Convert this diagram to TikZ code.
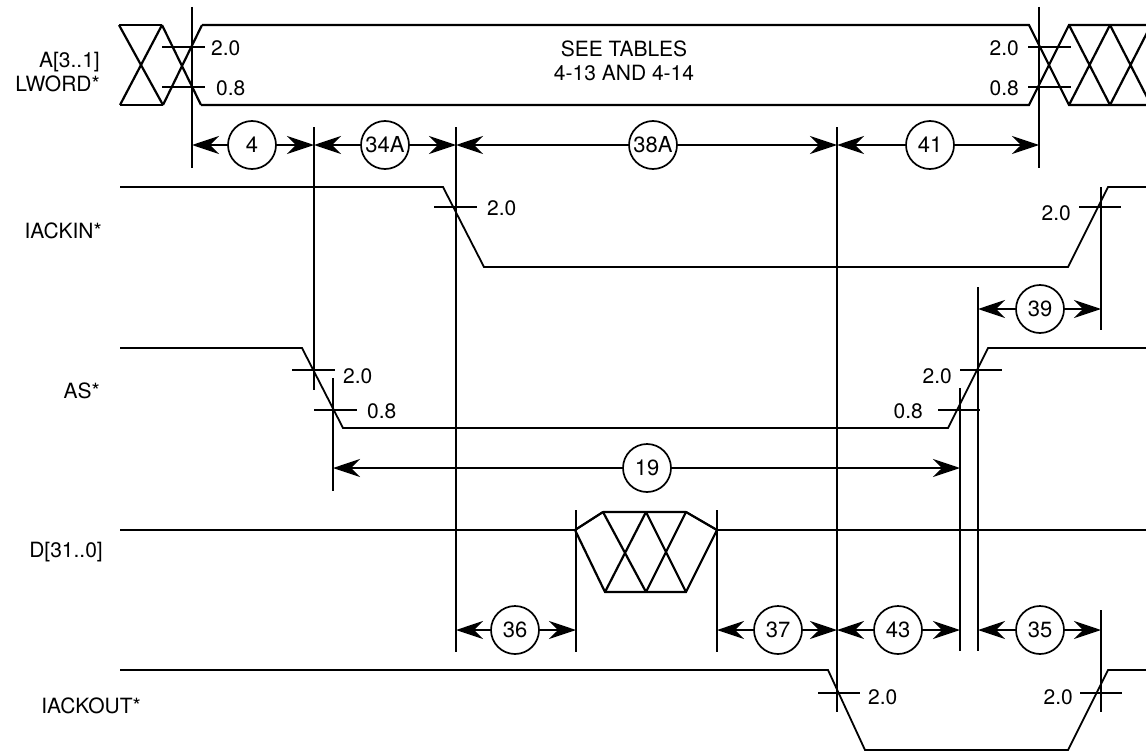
\documentclass[tikz,border=0pt]{standalone}
\usepackage{fontspec}
\setmainfont{TeX Gyre Heros}
\usetikzlibrary{arrows.meta}
\begin{document}
\begin{tikzpicture}[x=1pt,y=-1pt,
  sig/.style={line width=1.8pt, line join=miter},
  bus/.style={line width=2.2pt, line join=miter},
  guide/.style={line width=1.8pt},
  tick/.style={line width=2.2pt},
  dim/.style={line width=2pt, -{Stealth[length=27pt,width=18pt,inset=9pt]}},
  num/.style={circle, draw, line width=1.7pt, fill=white, minimum size=48pt, inner sep=0pt, font=\fontsize{22}{24}\selectfont},
  lbl/.style={font=\fontsize{21}{24}\selectfont, inner sep=0pt},
]
\useasboundingbox (0,0) rectangle (1146,752);

% ---------- signal names ----------
\node[lbl, anchor=east, align=right] (nA) at (100,72) {A[3..1]\\LWORD*};
\node[lbl, anchor=east] (nIN) at (102,231) {IACKIN*};
\node[lbl, anchor=east] (nAS) at (100,391) {AS*};
\node[lbl, anchor=east] (nD) at (103,552) {D[31..0]};
\node[lbl, anchor=east] (nOUT) at (141,706) {IACKOUT*};

% ---------- A[3..1] / LWORD* bus ----------
\draw[bus] (119,25) -- (162,25) (120,105) -- (163,105);
\draw[bus] (119,25) -- (163,105) (120,105) -- (162,25);
\draw[bus] (162,25) -- (201,105) (163,105) -- (202,25);
\draw[bus] (202,25) -- (1029,25) -- (1069,105) -- (1146,105);
\draw[bus] (201,105) -- (1029,105) -- (1069,25) -- (1146,25);
\draw[bus] (1069,25) -- (1110,105) (1069,105) -- (1110,25);
\draw[bus] (1110,25) -- (1151,105) (1110,105) -- (1151,25);
\node[lbl, align=center] (see) at (624,61) {SEE TABLES\\4-13 AND 4-14};
\draw[tick] (162,47) -- (205,47) (162,87) -- (205,87);
\node[lbl, anchor=west] (a20l) at (211,48) {2.0};
\node[lbl, anchor=west] (a08l) at (216,88) {0.8};
\draw[tick] (1028,47) -- (1071,47) (1028,87) -- (1071,87);
\node[lbl, anchor=east] (a20r) at (1019,48) {2.0};
\node[lbl, anchor=east] (a08r) at (1019,88) {0.8};

% ---------- IACKIN* ----------
\draw[sig] (120,187) -- (443,187) -- (484,267) -- (1068,267) -- (1108,187) -- (1146,187);
\draw[tick] (434,207) -- (477,207) (1079,207) -- (1121,207);
\node[lbl, anchor=west] (i20l) at (487,208) {2.0};
\node[lbl, anchor=east] (i20r) at (1071,213) {2.0};

% ---------- AS* ----------
\draw[sig] (120,348) -- (302,348) -- (343,428) -- (948,428) -- (988,348) -- (1146,348);
\draw[tick] (292,370) -- (335,370) (314,410) -- (357,410);
\draw[tick] (960,370) -- (1002,370) (938,410) -- (980,410);
\node[lbl, anchor=west] (s20l) at (343,376) {2.0};
\node[lbl, anchor=west] (s08l) at (367,411) {0.8};
\node[lbl, anchor=east] (s20r) at (952,376) {2.0};
\node[lbl, anchor=east] (s08r) at (923,411) {0.8};

% ---------- D[31..0] ----------
\draw[sig] (120,530) -- (575,530) -- (603,512) -- (686,512) -- (717,530) -- (1146,530);
\draw[bus] (575,530) -- (605,592) -- (686,592) -- (717,530);
\draw[bus] (603,512) -- (575,530) (686,512) -- (717,530) (603,512) -- (686,512);
\draw[bus] (603,512) -- (646,592) (646,512) -- (605,592);
\draw[bus] (646,512) -- (686,592) (686,512) -- (646,592);

% ---------- IACKOUT* ----------
\draw[sig] (120,670) -- (828,670) -- (865,750) -- (1068,750) -- (1108,670) -- (1146,670);
\draw[tick] (818,693) -- (860,693) (1080,693) -- (1122,693);
\node[lbl, anchor=west] (o20l) at (868,697) {2.0};
\node[lbl, anchor=east] (o20r) at (1073,697) {2.0};

% ---------- reference verticals ----------
\draw[guide] (192,7) -- (192,168);
\draw[guide] (314,127) -- (314,390);
\draw[guide] (456,127) -- (456,652);
\draw[guide] (837,127) -- (837,712);
\draw[guide] (1039,7) -- (1039,168);
\draw[guide] (1101,187) -- (1101,330);
\draw[guide] (978,287) -- (978,651);
\draw[guide] (333,378) -- (333,491);
\draw[guide] (960,388) -- (960,651);
\draw[guide] (576,510) -- (576,652);
\draw[guide] (717,510) -- (717,652);
\draw[guide] (1101,610) -- (1101,712);

% ---------- arrow end points ----------
\coordinate (p192) at (192,145);
\coordinate (p314) at (314,145);
\coordinate (p456) at (456,145);
\coordinate (p837) at (837,145);
\coordinate (p1039) at (1039,145);
\coordinate (q978) at (978,309);
\coordinate (q1101) at (1101,309);
\coordinate (r333) at (333,468);
\coordinate (r960) at (960,468);
\coordinate (t456) at (456,630);
\coordinate (t576) at (576,630);
\coordinate (t717) at (717,630);
\coordinate (t837) at (837,630);
\coordinate (t960) at (960,630);
\coordinate (t978) at (978,630);
\coordinate (t1101) at (1101,630);

% ---------- timing parameters ----------
\node[num] (c4) at (252,145) {4};
\node[num] (c34A) at (385,145) {34A};
\node[num] (c38A) at (653,145) {38A};
\node[num] (c41) at (930,145) {41};
\node[num] (c39) at (1040,309) {39};
\node[num] (c19) at (647,468) {19};
\node[num] (c36) at (515,630) {36};
\node[num] (c37) at (778,630) {37};
\node[num] (c43) at (898,630) {43};
\node[num] (c35) at (1040,630) {35};

\draw[dim] (c4) -- (p192);   \draw[dim] (c4) -- (p314);
\draw[dim] (c34A) -- (p314); \draw[dim] (c34A) -- (p456);
\draw[dim] (c38A) -- (p456); \draw[dim] (c38A) -- (p837);
\draw[dim] (c41) -- (p837);  \draw[dim] (c41) -- (p1039);
\draw[dim] (c39) -- (q978);  \draw[dim] (c39) -- (q1101);
\draw[dim] (c19) -- (r333);  \draw[dim] (c19) -- (r960);
\draw[dim] (c36) -- (t456);  \draw[dim] (c36) -- (t576);
\draw[dim] (c37) -- (t717);  \draw[dim] (c37) -- (t837);
\draw[dim] (c43) -- (t837);  \draw[dim] (c43) -- (t960);
\draw[dim] (c35) -- (t978);  \draw[dim] (c35) -- (t1101);
\end{tikzpicture}
\end{document}
